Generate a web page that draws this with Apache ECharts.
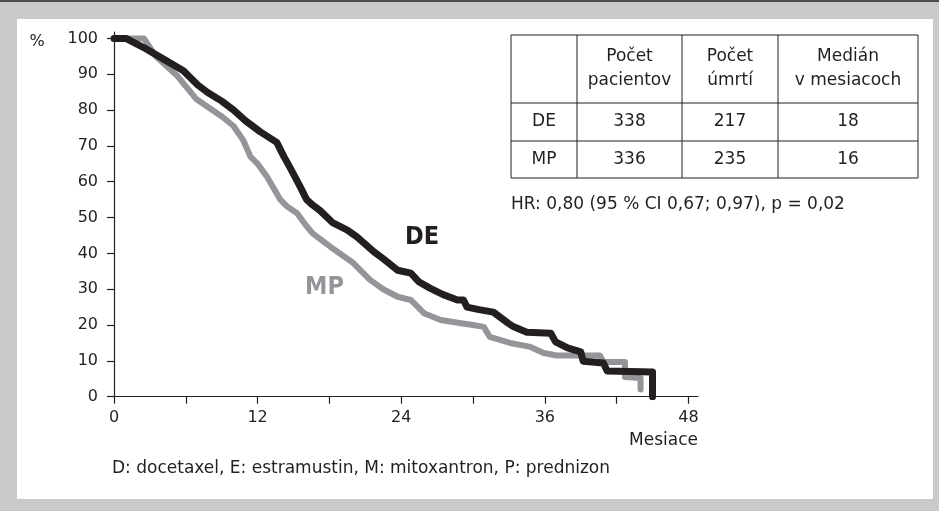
<!DOCTYPE html>
<html>
<head>
<meta charset="utf-8">
<script src="https://cdn.jsdelivr.net/npm/echarts@6/dist/echarts.min.js"></script>
<style>
html,body{margin:0;padding:0;}
#frame{position:absolute;left:0;top:0;width:939px;height:509px;background:#c8c9cb;border-top:2px solid #4d4d4f;}
#panel{position:absolute;left:17px;top:19px;width:916px;height:480px;background:#ffffff;}
#chart{position:absolute;left:0;top:0;width:939px;height:511px;}
</style>
</head>
<body>
<div id="frame"></div>
<div id="panel"></div>
<div id="chart"></div>
<script>
// ---- data ----
const deTime = [0,1,2.4,4,5.8,7,7.8,9,10,11,12.2,13.6,14.2,14.7,15.5,16.1,16.6,17.2,18.3,19.5,20.3,21.7,22.5,23.7,24.8,25.5,26.4,27.5,28.7,29.2,29.5,30.5,31.7,32.9,33.4,34.5,36.5,36.9,37.9,39,39.2,40.9,41.2,45,45];
const deSurv = [100,100,97.6,94.5,91,87,85,82.5,80,77,74,71,67,64,59,55,53.5,52,48.5,46.5,44.6,40.5,38.5,35.3,34.5,32,30.3,28.5,27,27,25,24.3,23.6,20.6,19.5,18,17.7,15.3,13.6,12.5,9.9,9.4,7.2,6.9,0];
const mpTime = [0,2.5,3,3.5,5.3,6.9,8,9.1,10,10.8,11.4,12,12.8,13.9,14.5,15.3,16,16.6,18.1,20,21.4,22.5,23.7,24.8,25.9,27.3,29,30,30.9,31.4,33.1,34.8,35.9,37,40.6,40.9,42.7,42.7,44,44];
const mpSurv = [100,100,97.5,95,89.5,83,80.5,78,75.5,71.6,67,65,61.3,55,53,51.2,48,45.6,41.8,37.3,32.6,30,27.9,27,23.3,21.4,20.5,20,19.5,16.7,15,13.9,12.2,11.5,11.5,9.7,9.7,5.5,5.2,2];
const xTicks = [0,6,12,18,24,30,36,42,48];
const xLabels = [0,12,24,36,48];
const yTicks = [0,10,20,30,40,50,60,70,80,90,100];
const tableHeader = [["Počet","pacientov"],["Počet","úmrtí"],["Medián","v mesiacoch"]];
const tableRowNames = ["DE","MP"];
const tablePatients = [338,336];
const tableDeaths = [217,235];
const tableMedian = [18,16];
const hrText = "HR: 0,80 (95 % CI 0,67; 0,97), p = 0,02";
const footnote = "D: docetaxel, E: estramustin, M: mitoxantron, P: prednizon";

const FONT = "DejaVu Sans";
const INK = "#231f20";
const GREY = "#939598";

function pairs(t, v){ return t.map((x,i)=>[x, v[i]]); }

const chart = echarts.init(document.getElementById('chart'), null, {renderer:'canvas'});

// table geometry
const tL=511, tR=918, tT=35, tB=178;
const rowY=[103,141];
const colX=[577,682,778];
const colCenters=[(tL+colX[0])/2,(colX[0]+colX[1])/2,(colX[1]+colX[2])/2,(colX[2]+tR)/2];
const graphics = [];
graphics.push({type:'rect', shape:{x:tL,y:tT,width:tR-tL,height:tB-tT}, style:{fill:'none',stroke:INK,lineWidth:1}});
rowY.forEach(y=>graphics.push({type:'line', shape:{x1:tL,y1:y,x2:tR,y2:y}, style:{stroke:INK,lineWidth:1}}));
colX.forEach(x=>graphics.push({type:'line', shape:{x1:x,y1:tT,x2:x,y2:tB}, style:{stroke:INK,lineWidth:1}}));
function txt(s,x,y,opt){
  return Object.assign({type:'text', x:x, y:y, style:{text:s, fill:INK, font:'17px "'+FONT+'"', textAlign:'center', textVerticalAlign:'middle'}}, opt||{});
}
tableHeader.forEach((h,i)=>{
  graphics.push(txt(h[0], colCenters[i+1], 57));
  graphics.push(txt(h[1], colCenters[i+1], 81));
});
const rowCenters=[122,160];
tableRowNames.forEach((n,r)=>{
  graphics.push(txt(n, colCenters[0], rowCenters[r]));
  graphics.push(txt(String(tablePatients[r]), colCenters[1], rowCenters[r]));
  graphics.push(txt(String(tableDeaths[r]), colCenters[2], rowCenters[r]));
  graphics.push(txt(String(tableMedian[r]), colCenters[3], rowCenters[r]));
});
graphics.push({type:'text', x:tL, y:205, style:{text:hrText, fill:INK, font:'17px "'+FONT+'"', textAlign:'left', textVerticalAlign:'middle'}});
graphics.push({type:'text', x:37, y:42, style:{text:'%', fill:INK, font:'16px "'+FONT+'"', textAlign:'center', textVerticalAlign:'middle'}});
graphics.push({type:'text', x:698, y:441, style:{text:'Mesiace', fill:INK, font:'17px "'+FONT+'"', textAlign:'right', textVerticalAlign:'middle'}});
graphics.push({type:'text', x:112, y:469, style:{text:footnote, fill:INK, font:'17px "'+FONT+'"', textAlign:'left', textVerticalAlign:'middle'}});
graphics.push({type:'text', x:405, y:237, style:{text:'DE', fill:INK, font:'bold 25px "Liberation Sans Narrow", "DejaVu Sans Condensed", sans-serif', textAlign:'left', textVerticalAlign:'middle'}});
graphics.push({type:'text', x:305, y:287, style:{text:'MP', fill:GREY, font:'bold 25px "Liberation Sans Narrow", "DejaVu Sans Condensed", sans-serif', textAlign:'left', textVerticalAlign:'middle'}});

const option = {
  animation:false,
  backgroundColor:'transparent',
  grid:{left:114, right:241, top:32, bottom:114.3, containLabel:false},
  xAxis:{
    type:'value', min:0, max:48.8,
    axisLine:{show:true, lineStyle:{color:INK, width:1.2}},
    axisTick:{show:true, inside:false, length:7, customValues:xTicks, lineStyle:{color:INK, width:1.2}},
    axisLabel:{show:true, customValues:xLabels, margin:13, fontSize:16, fontFamily:FONT, color:INK},
    splitLine:{show:false}
  },
  yAxis:{
    type:'value', min:0, max:101.8,
    axisLine:{show:true, lineStyle:{color:INK, width:1.2}},
    axisTick:{show:true, inside:false, length:7, customValues:yTicks, lineStyle:{color:INK, width:1.2}},
    axisLabel:{show:true, customValues:yTicks, margin:16, fontSize:16, fontFamily:FONT, color:INK},
    splitLine:{show:false}
  },
  series:[
    {name:'MP', type:'line', data:pairs(mpTime,mpSurv), symbol:'none', lineStyle:{color:GREY, width:6, cap:'round', join:'round'}, z:2},
    {name:'DE', type:'line', data:pairs(deTime,deSurv), symbol:'none', lineStyle:{color:INK, width:7, cap:'round', join:'round'}, z:3}
  ],
  graphic:graphics
};
chart.setOption(option);
</script>
</body>
</html>
